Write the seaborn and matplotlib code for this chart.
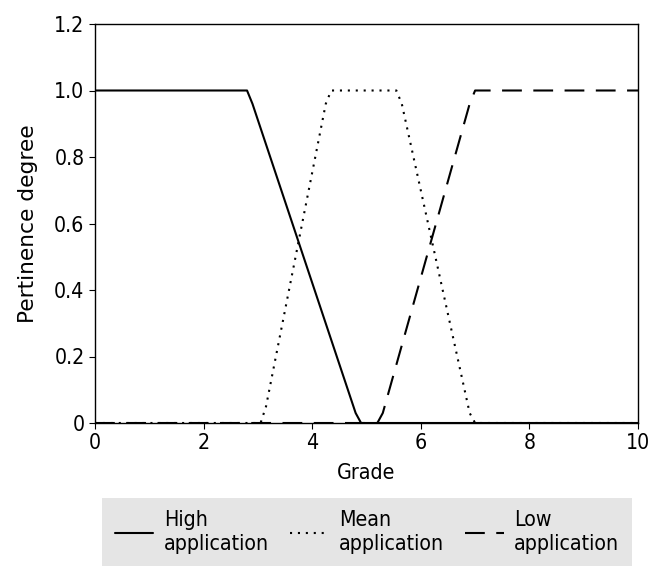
import matplotlib
matplotlib.use("Agg")
import matplotlib.pyplot as plt
import seaborn as sns
import pandas as pd

# Data (membership functions)
high_x = [0, 2.8, 2.9, 4.8, 4.9, 10]
high_y = [1, 1, 0.96, 0.03, 0, 0]
mean_x = [0, 3.05, 3.15, 4.25, 4.35, 5.55, 5.65, 6.9, 7.0, 10]
mean_y = [0, 0, 0.05, 0.96, 1, 1, 0.96, 0.03, 0, 0]
low_x = [0, 5.2, 5.3, 6.9, 7.0, 10]
low_y = [0, 0, 0.03, 0.96, 1, 1]
labels = ["High\napplication", "Mean\napplication", "Low\napplication"]
xticks = [0, 2, 4, 6, 8, 10]
yticks = [0, 0.2, 0.4, 0.6, 0.8, 1.0, 1.2]
ytick_labels = ["0", "0.2", "0.4", "0.6", "0.8", "1.0", "1.2"]

sns.set_style("ticks")
plt.rcParams['font.family'] = ['DejaVu Sans']
plt.rcParams['font.stretch'] = 'condensed'
FS = 15.3
plt.rcParams['font.size'] = FS
plt.rcParams['text.color'] = 'black'
plt.rcParams['axes.labelcolor'] = 'black'

fig = plt.figure(figsize=(6.54, 5.66), dpi=100)
ax = fig.add_axes([95/654, (566-423)/566, 543/654, 399/566])

df_h = pd.DataFrame({"x": high_x, "y": high_y})
df_m = pd.DataFrame({"x": mean_x, "y": mean_y})
df_l = pd.DataFrame({"x": low_x, "y": low_y})

sns.lineplot(data=df_h, x="x", y="y", ax=ax, color="black", lw=1.5,
             label=labels[0], sort=False, estimator=None)
sns.lineplot(data=df_m, x="x", y="y", ax=ax, color="black", lw=1.5,
             label=labels[1], sort=False, estimator=None)
sns.lineplot(data=df_l, x="x", y="y", ax=ax, color="black", lw=1.5,
             label=labels[2], sort=False, estimator=None)
lines = ax.get_lines()
lines[1].set_dashes((1, 2.8))
lines[2].set_dashes((9.5, 5.5))

ax.set_xlim(0, 10)
ax.set_ylim(0, 1.2)
ax.set_xticks(xticks)
ax.set_xticklabels([str(t) for t in xticks])
ax.set_yticks(yticks)
ax.set_yticklabels(ytick_labels)
ax.set_xlabel("Grade", fontsize=FS, labelpad=7, color="black")
ax.set_ylabel("Pertinence degree", fontsize=15.6, fontstretch="normal",
              labelpad=12, color="black")
ax.tick_params(labelsize=FS, color="black", labelcolor="black", length=4)
for s in ax.spines.values():
    s.set_visible(True)
    s.set_color("black")
    s.set_linewidth(1.0)

handles, labs = ax.get_legend_handles_labels()
ax.get_legend().remove()
leg = fig.legend(handles, labs, ncol=3, loc="center",
                 bbox_to_anchor=((102+632)/2/654, (566-532)/566),
                 frameon=True, fancybox=False, fontsize=FS,
                 handlelength=1.8, handletextpad=0.5, columnspacing=1.0,
                 borderpad=0.6)
leg.get_frame().set_facecolor("#e5e5e5")
leg.get_frame().set_edgecolor("none")
leg.get_frame().set_alpha(1)
for t in leg.get_texts():
    t.set_color("black")

fig.savefig("out.png", dpi=100)
